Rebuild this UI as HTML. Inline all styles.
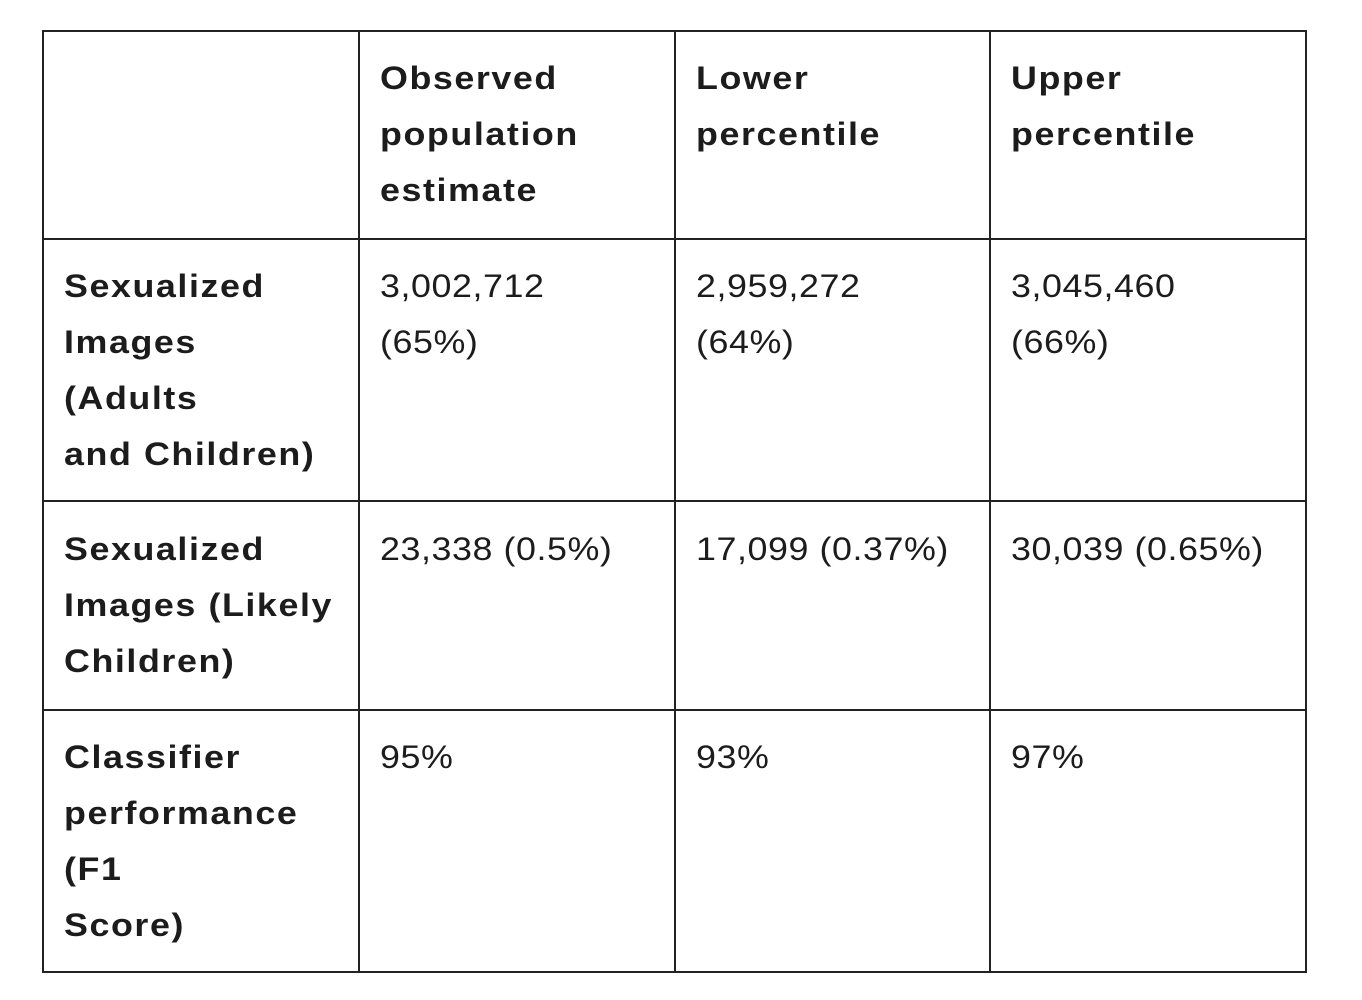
<!DOCTYPE html>
<html><head><meta charset="utf-8"><style>
html,body{margin:0;padding:0;background:#fff;}
body{width:1362px;height:1000px;position:relative;overflow:hidden;font-family:"Liberation Sans",sans-serif;color:#1c1c1c;}
.h{position:absolute;background:#222;height:2px;left:42px;width:1265px;}
.v{position:absolute;background:#222;width:2px;top:31px;height:942px;}
.c{position:absolute;font-size:32px;line-height:56px;white-space:nowrap;transform:scaleX(1.12);transform-origin:0 0;}
.b{font-weight:bold;letter-spacing:1.4px;}
.n{letter-spacing:0.5px;}
</style></head><body>
<div class="h" style="top:30px"></div>
<div class="h" style="top:238px"></div>
<div class="h" style="top:500px"></div>
<div class="h" style="top:709px"></div>
<div class="h" style="top:971px"></div>
<div class="v" style="left:42px"></div>
<div class="v" style="left:358px"></div>
<div class="v" style="left:674px"></div>
<div class="v" style="left:989px"></div>
<div class="v" style="left:1305px"></div>

<div class="c b" style="left:380px;top:50px">Observed<br>population<br>estimate</div>
<div class="c b" style="left:696px;top:50px">Lower<br>percentile</div>
<div class="c b" style="left:1011px;top:50px">Upper<br>percentile</div>

<div class="c b" style="left:64px;top:258px">Sexualized<br>Images<br>(Adults<br>and Children)</div>
<div class="c n" style="left:380px;top:258px">3,002,712<br>(65%)</div>
<div class="c n" style="left:696px;top:258px">2,959,272<br>(64%)</div>
<div class="c n" style="left:1011px;top:258px">3,045,460<br>(66%)</div>

<div class="c b" style="left:64px;top:521px">Sexualized<br>Images (Likely<br>Children)</div>
<div class="c n" style="left:380px;top:521px">23,338 (0.5%)</div>
<div class="c n" style="left:696px;top:521px">17,099 (0.37%)</div>
<div class="c n" style="left:1011px;top:521px">30,039 (0.65%)</div>

<div class="c b" style="left:64px;top:729px">Classifier<br>performance<br>(F1<br>Score)</div>
<div class="c n" style="left:380px;top:729px">95%</div>
<div class="c n" style="left:696px;top:729px">93%</div>
<div class="c n" style="left:1011px;top:729px">97%</div>
</body></html>
